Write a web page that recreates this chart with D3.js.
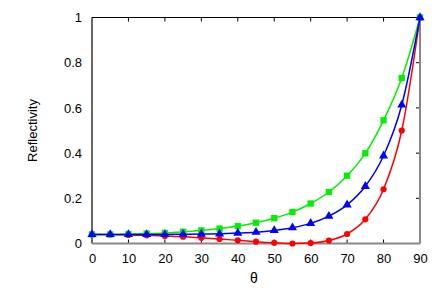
<!DOCTYPE html>
<html>
<head>
<meta charset="utf-8">
<style>
  body { margin: 0; background: white; }
  svg { font-family: 'Liberation Sans', Arial, sans-serif; }
  .tick text { font-size: 13px; fill: #000; }
</style>
</head>
<body>
<svg width="436" height="305"></svg>
<script src="https://d3js.org/d3.v7.min.js"></script>
<script>
const angles = [0, 5, 10, 15, 20, 25, 30, 35, 40, 45, 50, 55, 60, 65, 70, 75, 80, 85, 90];
const greenVals = [0.040, 0.040, 0.042, 0.044, 0.047, 0.052, 0.058, 0.066, 0.077, 0.092, 0.112, 0.139, 0.177, 0.228, 0.300, 0.399, 0.545, 0.732, 1.0];
const blueVals = [0.040, 0.040, 0.040, 0.040, 0.040, 0.041, 0.042, 0.043, 0.046, 0.050, 0.058, 0.070, 0.089, 0.121, 0.171, 0.253, 0.388, 0.613, 1.0];
const redVals = [0.040, 0.040, 0.038, 0.036, 0.033, 0.030, 0.025, 0.020, 0.014, 0.008, 0.003, 0.000, 0.002, 0.013, 0.042, 0.107, 0.240, 0.500, 1.0];
const xTicks = [0, 10, 20, 30, 40, 50, 60, 70, 80, 90];
const yTicks = [0, 0.2, 0.4, 0.6, 0.8, 1];

const margin = { top: 17.5, right: 16, bottom: 61.5, left: 92 };
const width = 436, height = 305;

const svg = d3.select("svg");

const x = d3.scaleLinear().domain([0, 90]).range([margin.left, width - margin.right]);
const y = d3.scaleLinear().domain([0, 1]).range([height - margin.bottom, margin.top]);

// axes with labels
const xAxis = svg.append("g")
  .attr("transform", `translate(0,${y(0)})`)
  .call(d3.axisBottom(x).tickValues(xTicks).tickSize(0).tickPadding(10).tickFormat(d3.format("d")));
xAxis.select(".domain").remove();

const yAxis = svg.append("g")
  .attr("transform", `translate(${x(0)},0)`)
  .call(d3.axisLeft(y).tickValues(yTicks).tickSize(0).tickPadding(10).tickFormat(d => d3.format("")(+d.toFixed(1))));
yAxis.select(".domain").remove();

// inward ticks
const tl = 4;
svg.append("g").selectAll("line.bt").data(xTicks.slice(1, -1)).join("line")
  .attr("x1", d => x(d)).attr("x2", d => x(d))
  .attr("y1", y(0)).attr("y2", y(0) - tl)
  .attr("stroke", "#000").attr("stroke-width", 1);
svg.append("g").selectAll("line.tt").data(xTicks.slice(1, -1)).join("line")
  .attr("x1", d => x(d)).attr("x2", d => x(d))
  .attr("y1", y(1)).attr("y2", y(1) + tl)
  .attr("stroke", "#000").attr("stroke-width", 1);
svg.append("g").selectAll("line.rt").data(yTicks.slice(1, -1)).join("line")
  .attr("x1", x(90)).attr("x2", x(90) - tl)
  .attr("y1", d => y(d)).attr("y2", d => y(d))
  .attr("stroke", "#000").attr("stroke-width", 1);

// border
svg.append("line").attr("x1", x(0)).attr("x2", x(90)).attr("y1", y(1)).attr("y2", y(1))
  .attr("stroke", "#000").attr("stroke-width", 1.2);
svg.append("line").attr("x1", x(0)).attr("x2", x(0)).attr("y1", y(1)).attr("y2", y(0))
  .attr("stroke", "#000").attr("stroke-width", 1.2);
svg.append("line").attr("x1", x(0)).attr("x2", x(90)).attr("y1", y(0)).attr("y2", y(0))
  .attr("stroke", "#888").attr("stroke-width", 2);
svg.append("line").attr("x1", x(90)).attr("x2", x(90)).attr("y1", y(1)).attr("y2", y(0))
  .attr("stroke", "#888").attr("stroke-width", 2);

const series = [
  { vals: redVals, color: "#ff0000", symbol: d3.symbolCircle, size: 30 },
  { vals: greenVals, color: "#00f000", symbol: d3.symbolSquare, size: 40 },
  { vals: blueVals, color: "#0000ff", symbol: d3.symbolTriangle, size: 36 }
];

const line = d3.line().x(d => x(d[0])).y(d => y(d[1])).curve(d3.curveMonotoneX);

series.forEach(s => {
  const pts = angles.map((a, i) => [a, s.vals[i]]);
  svg.append("path").attr("d", line(pts))
    .attr("fill", "none").attr("stroke", s.color).attr("stroke-width", 1.5);
  svg.append("g").selectAll("path").data(pts).join("path")
    .attr("transform", d => `translate(${x(d[0])},${y(d[1])})`)
    .attr("d", d3.symbol().type(s.symbol).size(s.size))
    .attr("fill", s.color);
});

svg.append("text").text("θ")
  .attr("x", 254).attr("y", 283)
  .attr("text-anchor", "middle").attr("font-size", 14).attr("fill", "#000");

svg.append("text").text("Reflectivity")
  .attr("transform", `translate(37,${(y(0) + y(1)) / 2}) rotate(-90)`)
  .attr("text-anchor", "middle").attr("font-size", 13).attr("fill", "#000");
</script>
</body>
</html>
